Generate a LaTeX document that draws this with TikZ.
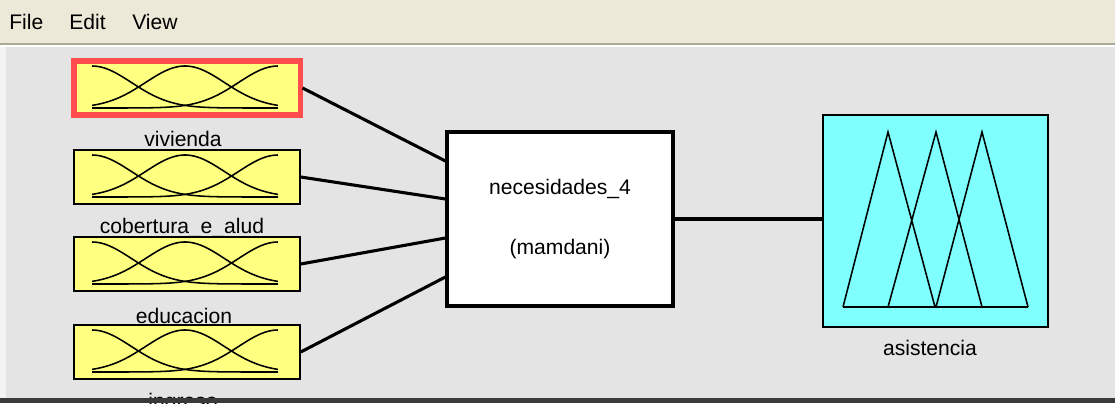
\documentclass[tikz,border=0pt]{standalone}
\usepackage{fontspec}
\setmainfont{Liberation Sans}
\usepackage{tikz}
\usetikzlibrary{positioning, calc}
\usepackage{xcolor}
\definecolor{panelgrey}{RGB}{228, 228, 228}
\definecolor{menubeige}{RGB}{236, 233, 216}
\definecolor{menuline}{RGB}{172, 168, 153}
\definecolor{mfyellow}{RGB}{255, 255, 128}
\definecolor{mfcyan}{RGB}{128, 255, 255}
\definecolor{selred}{RGB}{255, 77, 77}
\definecolor{framedark}{RGB}{58, 58, 58}

\begin{document}
\begin{tikzpicture}[
    x=0.025cm, y=-0.025cm,
    inbox/.style={draw=black, fill=mfyellow, line width=1pt,
                  minimum width=5.65cm, minimum height=1.35cm, inner sep=0pt},
    wire/.style={line width=2.2pt},
    mf/.style={line width=1.1pt},
    lbl/.style={font=\fontsize{15}{18}\selectfont, inner sep=0pt},
  ]
    \useasboundingbox (0,0) rectangle (1115,403);

    % Window background and menu bar
    \fill[panelgrey] (0,0) rectangle (1115,403);
    \fill[menubeige] (0,0) rectangle (1115,43);
    \fill[menuline] (0,43) rectangle (1115,45);
    \fill[white] (0,45) rectangle (1115,47);
    \fill[white!60!panelgrey] (0,47) rectangle (6,398);
    \node[lbl, anchor=west] (mfile) at (9,22) {File};
    \node[lbl, anchor=west] (medit) at (69,22) {Edit};
    \node[lbl, anchor=west] (mview) at (132,22) {View};

    % Input variables
    \node[inbox, draw=selred, line width=3.6pt] (viv) at (187,88) {};
    \node[lbl] (vivlbl) at (183,139) {vivienda};
    \node[inbox] (cob) at (187,177) {};
    \node[lbl] (coblbl) at (182,228) {cobertura\_e\_alud};
    \node[inbox] (edu) at (187,264) {};
    \node[lbl] (edulbl) at (184,316) {educacion};
    \node[inbox] (ing) at (187,352) {};
    \node[lbl] (inglbl) at (183,403) {ingreso};

    % Gaussian membership functions
    \foreach \yc in {88,177,264,352}{
      \foreach \m in {0,0.5,1}{
        \draw[mf] plot[domain=0:1, samples=80]
          ({92+186*\x}, {\yc+20-42*exp(0-((\x-\m)*(\x-\m))/0.0901)});
      }
    }

    % Inference system
    \node[draw=black, fill=white, line width=2.2pt, minimum width=5.65cm,
          minimum height=4.35cm, align=center,
          font=\fontsize{15}{42.7}\selectfont] (sys) at (560,219)
      {necesidades\_4\\(mamdani)};

    % Output variable
    \node[draw=black, fill=mfcyan, line width=1pt, minimum width=5.625cm,
          minimum height=5.3cm, inner sep=0pt] (asi) at (935.5,221) {};
    \node[lbl] (asilbl) at (930,348) {asistencia};
    \draw[mf] (843,307) -- (888,132) -- (935,307)
              (888,307) -- (936,132) -- (982,307)
              (936,307) -- (982,132) -- (1028,307)
              (843,307) -- (1028,307);

    % Connections
    \draw[wire] (viv.east) -- ($(sys.west)+(0,-58)$);
    \draw[wire] (cob.east) -- ($(sys.west)+(0,-20)$);
    \draw[wire] (edu.east) -- ($(sys.west)+(0,19)$);
    \draw[wire] (ing.east) -- ($(sys.west)+(0,58)$);
    \draw[wire] (sys.east) -- (sys.east -| asi.west);

    % Bottom frame edge
    \fill[framedark] (0,398) rectangle (1115,403);
  \end{tikzpicture}
\end{document}
